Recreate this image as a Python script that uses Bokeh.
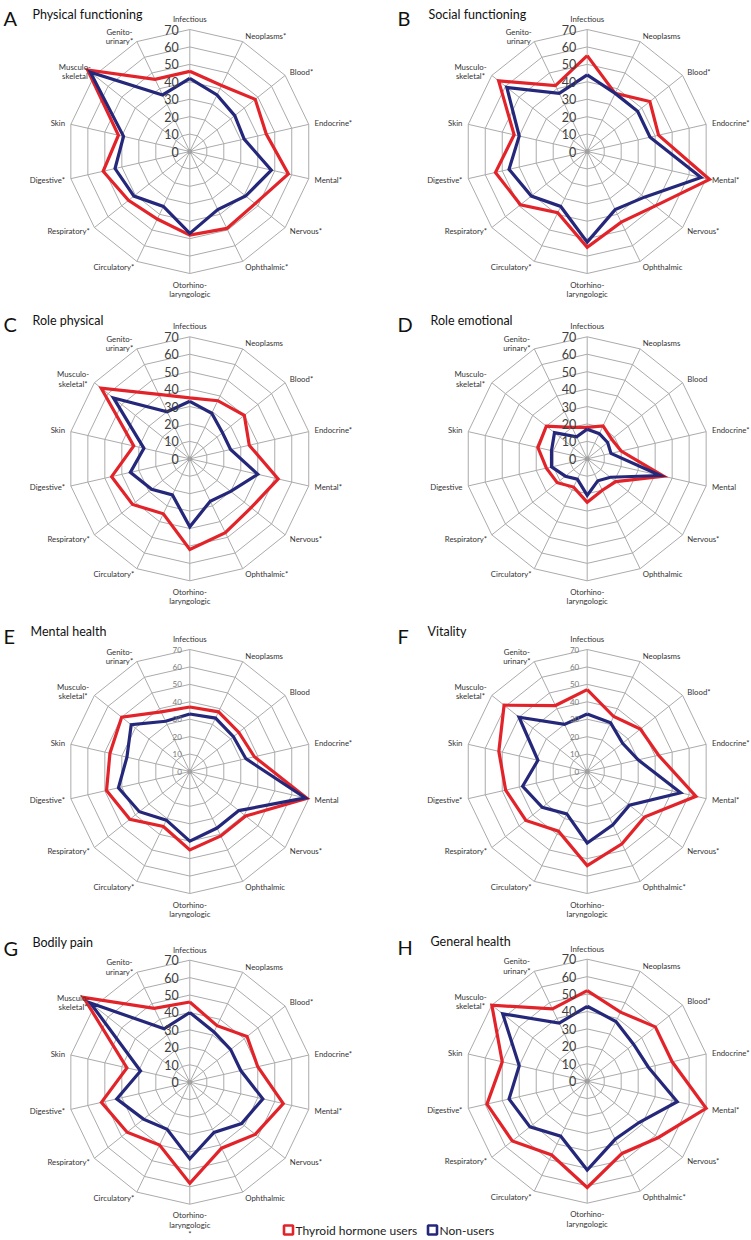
import numpy as np
from bokeh.plotting import figure
from bokeh.models import Range1d
from bokeh.embed import file_html
from bokeh.resources import INLINE
from bokeh.core.properties import value

# ---------------- data ----------------
categories = ["Infectious", "Neoplasms", "Blood", "Endocrine", "Mental", "Nervous",
              "Ophthalmic", "Otorhino-laryngologic", "Circulatory", "Respiratory",
              "Digestive", "Skin", "Musculo-skeletal", "Genito-urinary"]
ticks = [0, 10, 20, 30, 40, 50, 60, 70]
series_names = ["Thyroid hormone users", "Non-users"]

panel_letters = ["A", "B", "C", "D", "E", "F", "G", "H"]
panel_titles = ["Physical functioning", "Social functioning", "Role physical",
                "Role emotional", "Mental health", "Vitality", "Bodily pain",
                "General health"]

# significance markers: 0 none, 1 asterisk, 2 asterisk on its own line
stars_A = [0, 1, 1, 1, 1, 1, 1, 0, 1, 1, 1, 0, 0, 1]
stars_B = [0, 0, 1, 1, 1, 1, 0, 0, 1, 1, 1, 0, 1, 0]
stars_C = [0, 0, 1, 1, 1, 1, 1, 0, 1, 1, 1, 0, 1, 1]
stars_D = [0, 0, 0, 1, 0, 1, 0, 0, 1, 1, 0, 0, 1, 1]
stars_E = [0, 0, 0, 1, 0, 1, 0, 0, 1, 1, 1, 0, 1, 1]
stars_F = [0, 0, 1, 1, 1, 1, 1, 0, 1, 1, 1, 0, 1, 1]
stars_G = [0, 0, 1, 1, 1, 1, 0, 2, 1, 1, 1, 0, 1, 1]
stars_H = [0, 0, 1, 1, 1, 1, 1, 0, 1, 1, 1, 0, 1, 1]

users_A = [46, 42, 48, 45, 58, 48, 49, 48, 43, 45, 51, 42, 75, 46]
nonusers_A = [42, 36, 33, 32, 48, 41, 37, 47, 35, 41, 44, 39, 73, 36]
users_B = [55, 37, 46, 42, 72, 50, 45, 55, 39, 49, 54, 43, 65, 42]
nonusers_B = [44, 37, 37, 37, 67, 42, 37, 52, 35, 41, 46, 40, 59, 37]
users_C = [35, 37, 40, 35, 52, 45, 47, 52, 35, 42, 46, 33, 65, 41]
nonusers_C = [33, 29, 24, 24, 40, 30, 27, 39, 23, 28, 35, 27, 56, 30]
users_D = [18, 21, 18, 20, 45, 21, 20, 25, 18, 22, 24, 29, 30, 20]
nonusers_D = [17, 16, 15, 14, 43, 17, 14, 21, 13, 16, 21, 21, 24, 14]
users_E = [37, 38, 36, 38, 69, 41, 41, 45, 35, 44, 49, 47, 50, 38]
nonusers_E = [33, 34, 32, 33, 68, 36, 36, 40, 31, 37, 42, 37, 43, 32]
users_F = [47, 35, 39, 42, 64, 42, 46, 54, 38, 45, 48, 52, 61, 42]
nonusers_F = [33, 31, 26, 30, 55, 31, 34, 41, 27, 33, 38, 29, 50, 30]
users_G = [46, 36, 42, 40, 55, 48, 42, 58, 40, 46, 52, 37, 78, 47]
nonusers_G = [40, 32, 30, 30, 43, 38, 32, 44, 30, 34, 43, 29, 73, 34]
users_H = [52, 44, 50, 50, 70, 52, 46, 61, 47, 55, 59, 50, 70, 46]
nonusers_H = [43, 38, 34, 36, 53, 38, 37, 51, 35, 42, 46, 40, 62, 37]

# ---------------- layout / style ----------------
RED = "#e2242a"
BLUE = "#25287a"
GRID = "#ababab"
FONT = value("Lato")
R_PX = 122.0
K = R_PX / 70.0

centers = [(189.3, 151.0), (586.7, 151.0), (189.3, 458.3), (586.7, 458.3),
           (189.3, 771.0), (586.7, 771.0), (189.3, 1081.7), (586.7, 1080.7)]
letter_pos = [(3, 17), (397, 17), (3, 323), (397, 323), (3, 635), (397, 635),
              (3, 947), (397, 946)]
title_pos = [(32, 14), (428, 14), (32, 320), (430, 320), (30, 631), (427, 631),
             (32, 942), (430, 941)]
small_ticks = [False, False, False, False, True, True, False, False]

stars_all = [stars_A, stars_B, stars_C, stars_D, stars_E, stars_F, stars_G, stars_H]
users_all = [users_A, users_B, users_C, users_D, users_E, users_F, users_G, users_H]
non_all = [nonusers_A, nonusers_B, nonusers_C, nonusers_D, nonusers_E, nonusers_F,
           nonusers_G, nonusers_H]

W, H = 751, 1240
p = figure(width=W, height=H, x_range=Range1d(0, W), y_range=Range1d(H, 0),
           x_axis_location=None, y_axis_location=None, toolbar_location=None,
           output_backend="svg", min_border=0, outline_line_color=None)
p.grid.visible = False

n = len(categories)
ang = np.arange(n) * 2 * np.pi / n
sx = np.sin(ang)
sy = -np.cos(ang)


def split_label(name):
    if "-" in name:
        a, b = name.split("-", 1)
        return [a + "-", b]
    return [name]


for pi in range(8):
    cx, cy = centers[pi]
    # grid rings
    gx, gy = [], []
    for t in ticks[1:]:
        r = K * t
        gx.append(list(cx + r * np.append(sx, sx[0])))
        gy.append(list(cy + r * np.append(sy, sy[0])))
    for i in range(n):
        gx.append([cx, cx + R_PX * sx[i]])
        gy.append([cy, cy + R_PX * sy[i]])
    p.multi_line(gx, gy, line_color=GRID, line_width=1)
    p.scatter([cx], [cy], size=5, fill_color="#a0a0a0", line_color=None)

    # series
    for vals, col in ((users_all[pi], RED), (non_all[pi], BLUE)):
        v = np.array(vals, dtype=float)
        xs = cx + K * v * sx
        ys = cy + K * v * sy
        p.line(np.append(xs, xs[0]), np.append(ys, ys[0]), line_color=col,
               line_width=3.2, line_join="miter")

    # tick labels
    if small_ticks[pi]:
        tsize, tcol, toff = "8px", "#7a7a7a", 8
    else:
        tsize, tcol, toff = "12.5px", "#404040", 11
    p.text([cx - toff] * len(ticks), [cy - K * t for t in ticks],
           text=[str(t) for t in ticks], text_align="right", text_baseline="middle",
           text_font=FONT, text_font_size=tsize, text_color=tcol)

    # category labels
    L = {"left": ([], [], []), "right": ([], [], []), "center": ([], [], [])}
    st = stars_all[pi]
    for i in range(n):
        lines = split_label(categories[i])
        if st[i] == 1:
            lines[-1] = lines[-1] + "*"
        elif st[i] == 2:
            lines.append("*")
        vx = cx + R_PX * sx[i]
        vy = cy + R_PX * sy[i]
        if i == 0:
            L["center"][0].append(cx); L["center"][1].append(cy - R_PX - 10.5)
            L["center"][2].append(lines[0])
            continue
        if i == n // 2:
            for j, ln in enumerate(lines):
                L["center"][0].append(cx); L["center"][1].append(cy + R_PX + 11 + 9.3 * j)
                L["center"][2].append(ln)
            continue
        ax = vx + 6 * sx[i]
        ay = vy + 6 * sy[i]
        if len(lines) == 1:
            key = "left" if sx[i] > 0 else "right"
            L[key][0].append(ax); L[key][1].append(ay); L[key][2].append(lines[0])
        else:
            w = max(len(s) for s in lines) * 3.7
            bx = ax - w / 2 if sx[i] < 0 else ax + w / 2
            m = len(lines)
            for j, ln in enumerate(lines):
                L["center"][0].append(bx)
                L["center"][1].append(ay + (j - (m - 1) / 2) * 9.3)
                L["center"][2].append(ln)
    for key, (xx, yy, tt) in L.items():
        p.text(xx, yy, text=tt, text_align=key, text_baseline="middle",
               text_font=FONT, text_font_size="7.8px", text_color="#333333")

    # titles
    p.text([letter_pos[pi][0]], [letter_pos[pi][1]], text=[panel_letters[pi]],
           text_align="left", text_baseline="alphabetic", text_font=FONT,
           text_font_size="20px", text_color="#111111")
    p.text([title_pos[pi][0]], [title_pos[pi][1]], text=[panel_titles[pi]],
           text_align="left", text_baseline="alphabetic", text_font=FONT,
           text_font_size="12.5px", text_color="#111111")

# legend
leg_x = [288, 432]
leg_cols = [RED, BLUE]
p.scatter(leg_x, [1229.5, 1229.5], marker="square", size=9, fill_color="white",
          line_color=leg_cols, line_width=2.6)
p.text([x + 7 for x in leg_x], [1229.5, 1229.5], text=series_names,
       text_align="left", text_baseline="middle", text_font=FONT,
       text_font_size="12px", text_color="#222222")

open("out.html", "w").write(file_html(p, INLINE))
